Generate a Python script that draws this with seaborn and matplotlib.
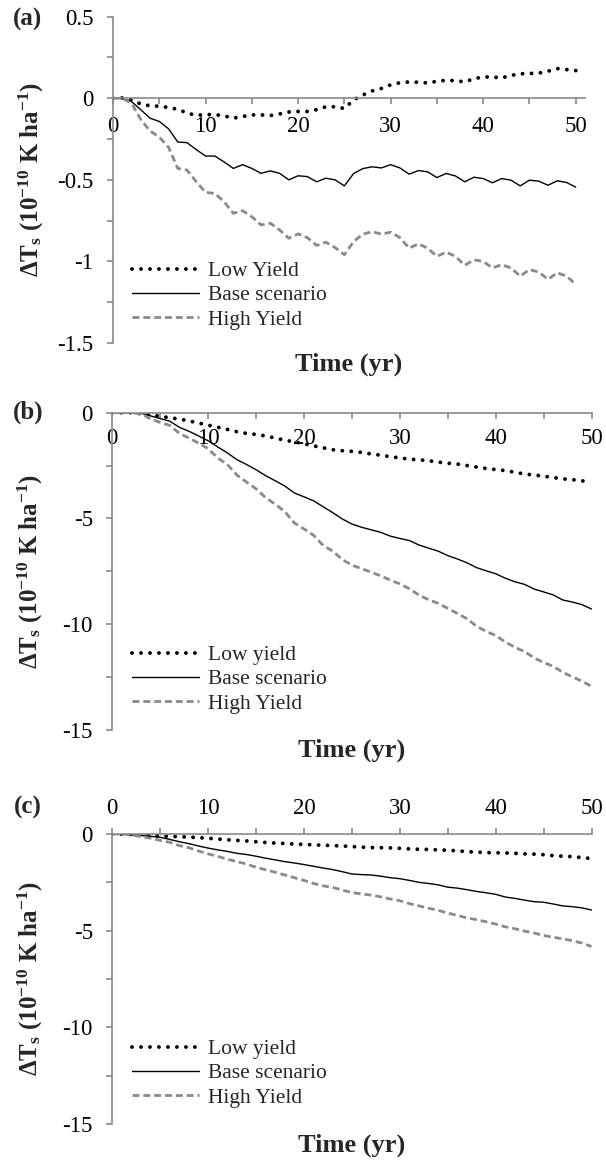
import matplotlib
matplotlib.use('Agg')
import matplotlib.pyplot as plt
from matplotlib.ticker import MultipleLocator, FuncFormatter
import seaborn as sns

# Time axis (years)
years = list(range(51))

# Panel (a)
a_low = [0, 0.002, -0.01, -0.035, -0.046, -0.049, -0.056, -0.068, -0.09, -0.105,
         -0.1, -0.1, -0.108, -0.122, -0.112, -0.102, -0.102, -0.106, -0.096, -0.084,
         -0.081, -0.081, -0.07, -0.052, -0.052, -0.063, -0.01, 0.02, 0.045, 0.06,
         0.082, 0.095, 0.1, 0.098, 0.094, 0.104, 0.11, 0.108, 0.1, 0.12,
         0.131, 0.13, 0.125, 0.14, 0.15, 0.152, 0.154, 0.166, 0.182, 0.176, 0.17]
a_base = [0, 0, -0.02, -0.07, -0.122, -0.142, -0.187, -0.268, -0.272, -0.315,
          -0.354, -0.354, -0.39, -0.43, -0.407, -0.43, -0.46, -0.445, -0.46, -0.5,
          -0.475, -0.48, -0.512, -0.49, -0.5, -0.537, -0.461, -0.431, -0.42, -0.427,
          -0.407, -0.427, -0.465, -0.443, -0.451, -0.486, -0.461, -0.476, -0.512, -0.484,
          -0.492, -0.518, -0.492, -0.502, -0.537, -0.502, -0.508, -0.533, -0.506, -0.516, -0.545]
a_high = [0, 0, -0.03, -0.13, -0.2, -0.238, -0.3, -0.43, -0.44, -0.512,
          -0.577, -0.583, -0.634, -0.705, -0.689, -0.726, -0.776, -0.766, -0.807, -0.858,
          -0.831, -0.854, -0.902, -0.882, -0.915, -0.959, -0.878, -0.833, -0.817, -0.833,
          -0.821, -0.854, -0.919, -0.892, -0.919, -0.969, -0.943, -0.969, -1.024, -0.99,
          -1.0, -1.04, -1.02, -1.04, -1.09, -1.05, -1.065, -1.11, -1.07, -1.09, -1.14]

# Panel (b)
b_low = [0, 0, 0, -0.05, -0.1, -0.17, -0.24, -0.3, -0.39, -0.49,
         -0.59, -0.69, -0.79, -0.9, -0.98, -1.03, -1.1, -1.2, -1.3, -1.38,
         -1.47, -1.57, -1.66, -1.75, -1.8, -1.83, -1.88, -1.95, -2.01, -2.08,
         -2.14, -2.2, -2.23, -2.27, -2.34, -2.39, -2.43, -2.5, -2.57, -2.64,
         -2.69, -2.74, -2.82, -2.9, -2.95, -3.0, -3.07, -3.13, -3.17, -3.22, -3.31]
b_base = [0, 0, 0, -0.03, -0.15, -0.28, -0.4, -0.69, -0.88, -1.1,
          -1.33, -1.62, -1.9, -2.22, -2.45, -2.7, -2.98, -3.22, -3.47, -3.8,
          -3.98, -4.17, -4.45, -4.73, -5.03, -5.27, -5.42, -5.54, -5.66, -5.84,
          -5.95, -6.05, -6.26, -6.41, -6.55, -6.76, -6.92, -7.1, -7.33, -7.48,
          -7.62, -7.83, -8.0, -8.12, -8.34, -8.48, -8.62, -8.86, -8.96, -9.08, -9.29]
b_high = [0, 0, 0, -0.05, -0.3, -0.46, -0.6, -0.98, -1.2, -1.44,
          -1.7, -2.14, -2.45, -2.95, -3.28, -3.6, -4.02, -4.33, -4.68, -5.22,
          -5.5, -5.8, -6.28, -6.55, -6.95, -7.21, -7.38, -7.54, -7.72, -7.92,
          -8.1, -8.33, -8.63, -8.85, -9.02, -9.26, -9.5, -9.75, -10.1, -10.35,
          -10.54, -10.85, -11.1, -11.3, -11.6, -11.82, -12.0, -12.28, -12.5, -12.7, -12.95]

# Panel (c)
c_low = [0, 0, -0.02, -0.04, -0.08, -0.1, -0.12, -0.14, -0.16, -0.19,
         -0.22, -0.26, -0.3, -0.33, -0.36, -0.4, -0.44, -0.47, -0.49, -0.52,
         -0.54, -0.56, -0.58, -0.6, -0.62, -0.65, -0.68, -0.7, -0.71, -0.72,
         -0.74, -0.77, -0.79, -0.8, -0.82, -0.84, -0.87, -0.91, -0.94, -0.96,
         -0.97, -0.98, -1.0, -1.03, -1.04, -1.07, -1.12, -1.15, -1.17, -1.22, -1.27]
c_base = [0, 0, -0.04, -0.08, -0.12, -0.17, -0.28, -0.4, -0.5, -0.62,
          -0.73, -0.82, -0.9, -1.0, -1.06, -1.15, -1.25, -1.34, -1.43, -1.5,
          -1.58, -1.67, -1.76, -1.84, -1.95, -2.07, -2.1, -2.12, -2.18, -2.26,
          -2.31, -2.4, -2.5, -2.56, -2.63, -2.75, -2.8, -2.88, -2.97, -3.04,
          -3.12, -3.26, -3.33, -3.42, -3.5, -3.53, -3.62, -3.72, -3.76, -3.82, -3.93]
c_high = [0, 0, -0.06, -0.13, -0.22, -0.33, -0.43, -0.6, -0.71, -0.88,
          -1.03, -1.16, -1.3, -1.43, -1.55, -1.72, -1.85, -1.98, -2.12, -2.26,
          -2.4, -2.56, -2.68, -2.76, -2.9, -3.03, -3.1, -3.16, -3.25, -3.36,
          -3.45, -3.6, -3.72, -3.84, -3.95, -4.09, -4.21, -4.34, -4.43, -4.54,
          -4.66, -4.8, -4.9, -5.02, -5.12, -5.25, -5.34, -5.42, -5.52, -5.64, -5.82]

sns.set_theme(style='white')
plt.rcParams['font.family'] = ['Liberation Serif', 'DejaVu Serif']
plt.rcParams['mathtext.fontset'] = 'custom'
plt.rcParams['mathtext.rm'] = 'Liberation Serif'
plt.rcParams['mathtext.bf'] = 'Liberation Serif:bold'
plt.rcParams['mathtext.it'] = 'Liberation Serif:italic'
plt.rcParams['axes.unicode_minus'] = False

W, H = 606, 1160
GREY_AX = '#898989'
GREY_LINE = '#8a8a8a'

fig = plt.figure(figsize=(W / 100, H / 100), dpi=100)


def rect(l, t, r, b):
    return [l / W, 1 - b / H, (r - l) / W, (b - t) / H]


def draw_panel(box, low, base, high, low_name, ylim, ymaj, ymin, xmax,
               labels_top, xpad, legend_top, tag, tag_y):
    ax = fig.add_axes(rect(*box))
    sns.lineplot(x=years, y=low, ax=ax, color='black', linewidth=2.8,
                 linestyle=(0, (0.01, 2.3)), dash_capstyle='round', label=low_name)
    sns.lineplot(x=years, y=base, ax=ax, color='black', linewidth=1.0,
                 label='Base scenario')
    sns.lineplot(x=years, y=high, ax=ax, color=GREY_LINE, linewidth=2.0,
                 linestyle=(0, (2.5, 1.4)), label='High Yield')

    ax.set_xlim(0, xmax)
    ax.set_ylim(*ylim)
    for s in ax.spines.values():
        s.set_color(GREY_AX)
        s.set_linewidth(1.2)
    ax.spines['right'].set_visible(False)
    if labels_top:
        ax.spines['bottom'].set_visible(False)
        ax.spines['top'].set_position(('data', 0))
        ax.xaxis.tick_top()
    else:
        ax.spines['top'].set_visible(False)
        ax.spines['bottom'].set_position(('data', 0))
        ax.xaxis.tick_bottom()
    ax.yaxis.tick_left()

    ax.xaxis.set_major_locator(MultipleLocator(10))
    ax.xaxis.set_minor_locator(MultipleLocator(5))
    ax.yaxis.set_major_locator(MultipleLocator(ymaj))
    ax.yaxis.set_minor_locator(MultipleLocator(ymin))
    fmt = FuncFormatter(lambda v, p: f'{v:g}')
    ax.xaxis.set_major_formatter(fmt)
    ax.yaxis.set_major_formatter(fmt)
    ax.tick_params(axis='both', which='both', direction='out', length=4,
                   width=1.2, color=GREY_AX, labelcolor='black', labelsize=16.5)
    ax.tick_params(axis='y', which='major', pad=10)
    ax.tick_params(axis='x', which='major', pad=xpad)

    hpx = box[3] - box[1]
    wpx = box[2] - box[0]
    ax.set_xlabel('Time (yr)', fontsize=19, fontweight='bold', va='center')
    ax.xaxis.set_label_coords(0.5, -21 / hpx)
    ax.set_ylabel(r'ΔT$_{\mathbf{s}}$ (10$^{\mathbf{-10}}$ K ha$^{\mathbf{-1}}$)',
                  fontsize=18, fontweight='bold', va='center')
    ax.yaxis.set_label_coords(-82 / wpx, 0.5)

    ax.legend(loc='upper left', bbox_to_anchor=(132 / W, 1 - legend_top / H),
              bbox_transform=fig.transFigure, frameon=False, fontsize=15.5,
              handlelength=3.1, handletextpad=0.45, labelspacing=0.2,
              borderpad=0, borderaxespad=0)
    fig.text(28 / W, 1 - tag_y / H, tag, ha='center', va='center',
             fontsize=18, fontweight='bold')
    return ax


draw_panel((113, 16.7, 585, 343), a_low, a_base, a_high, 'Low Yield',
           (-1.5, 0.5), 0.5, 0.25, 51, False, 9, 261, '(a)', 19)
draw_panel((112.3, 412.7, 591.5, 729.7), b_low, b_base, b_high, 'Low yield',
           (-15, 0), 5, 2.5, 50, False, 7, 645, '(b)', 412)
draw_panel((112.3, 834, 591.5, 1124), c_low, c_base, c_high, 'Low yield',
           (-15, 0), 5, 2.5, 50, True, 7, 1039, '(c)', 807)

fig.savefig('out.png', dpi=100)
